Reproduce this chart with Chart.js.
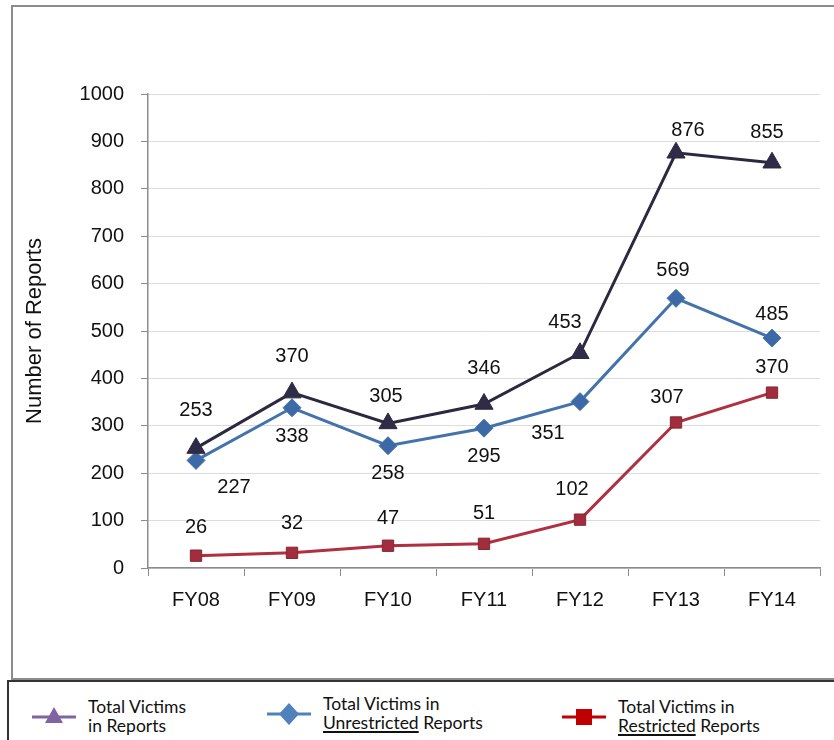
<!DOCTYPE html>
<html>
<head>
<meta charset="utf-8">
<script src="https://cdn.jsdelivr.net/npm/chart.js@4.4.0/dist/chart.umd.min.js"></script>
<style>
  body { margin: 0; background: #fff; width: 834px; height: 740px; overflow: hidden; position: relative; }
  #wrap { position: absolute; left: 0; top: 0; width: 834px; height: 740px; }
  #frame { position: absolute; left: 11px; top: 5px; width: 840px; height: 671px; border: 2px solid #8c8c8c; pointer-events: none; }
  #legend { position: absolute; left: 7px; top: 680px; width: 850px; height: 80px; border: 2px solid #333; background: #fff;
            font-family: Lato, "Open Sans", sans-serif; font-size: 17.5px; color: #111; }
  .item { position: absolute; top: 15px; display: flex; align-items: center; }
  .item canvas { margin-right: 10px; }
  .item span { line-height: 19px; }
  u { text-decoration-thickness: 2px; text-underline-offset: 2px; }
</style>
</head>
<body>
<div id="wrap"><canvas id="chart" width="834" height="740"></canvas></div>
<div id="frame"></div>
<div id="legend">
  <div class="item" style="left:21px"><canvas id="lg0" width="48" height="30"></canvas><span>Total Victims<br>in Reports</span></div>
  <div class="item" style="left:256px;top:12px"><canvas id="lg1" width="48" height="30"></canvas><span>Total Victims in<br><u>Unrestricted</u> Reports</span></div>
  <div class="item" style="left:551px"><canvas id="lg2" width="48" height="30"></canvas><span>Total Victims in<br><u>Restricted</u> Reports</span></div>
</div>
<script>
const categories = ['FY08', 'FY09', 'FY10', 'FY11', 'FY12', 'FY13', 'FY14'];
const totalVictims = [253, 370, 305, 346, 453, 876, 855];
const unrestrictedVictims = [227, 338, 258, 295, 351, 569, 485];
const restrictedVictims = [26, 32, 47, 51, 102, 307, 370];
const yTicks = [0, 100, 200, 300, 400, 500, 600, 700, 800, 900, 1000];

const FONT = '"Liberation Sans", Arial, sans-serif';

// label offsets (dx, dy) from each point, per series
const labelOffsets = [
  [[0, -38], [0, -36], [-2, -27], [0, -36], [-15, -31], [12, -22], [-5, -30]],
  [[38, 27], [0, 29], [0, 28], [0, 28], [-32, 32], [-3, -28], [0, -24]],
  [[0, -28], [0, -29], [0, -27], [0, -30], [-8, -30], [-9, -25], [0, -25]]
];

const dataLabels = {
  id: 'dataLabels',
  afterDatasetsDraw(chart) {
    const ctx = chart.ctx;
    ctx.save();
    ctx.font = '20px ' + FONT;
    ctx.fillStyle = '#111';
    ctx.textAlign = 'center';
    ctx.textBaseline = 'middle';
    chart.data.datasets.forEach((ds, i) => {
      chart.getDatasetMeta(i).data.forEach((pt, j) => {
        const o = labelOffsets[i][j];
        ctx.fillText(String(ds.data[j]), pt.x + o[0], pt.y + o[1]);
      });
    });
    ctx.restore();
  }
};

new Chart(document.getElementById('chart'), {
  type: 'line',
  data: {
    labels: categories,
    datasets: [
      {
        label: 'Total Victims in Reports',
        data: totalVictims,
        borderColor: '#2b2940',
        backgroundColor: '#2f2c48',
        pointStyle: 'triangle',
        pointRadius: 10.5,
        borderWidth: 3,
        pointBorderWidth: 1
      },
      {
        label: 'Total Victims in Unrestricted Reports',
        data: unrestrictedVictims,
        borderColor: '#4473ab',
        backgroundColor: '#3d6aa6',
        pointStyle: 'rectRot',
        pointRadius: 9,
        borderWidth: 3,
        pointBorderWidth: 1
      },
      {
        label: 'Total Victims in Restricted Reports',
        data: restrictedVictims,
        borderColor: '#b0303f',
        backgroundColor: '#a32d3c',
        pointBorderColor: '#7d2a35',
        pointStyle: 'rect',
        pointRadius: 8,
        borderWidth: 3,
        pointBorderWidth: 1
      }
    ]
  },
  options: {
    responsive: false,
    animation: false,
    layout: { padding: { top: 94, right: 14, bottom: 122, left: 0 } },
    plugins: { legend: { display: false }, tooltip: { enabled: false } },
    scales: {
      x: {
        offset: true,
        afterFit: (s) => { s.height = 50; },
        grid: { offset: true, drawOnChartArea: false, drawTicks: true, tickLength: 8, tickColor: '#8c8c8c' },
        border: { color: '#8c8c8c', width: 1.5 },
        ticks: { color: '#111', padding: 12, font: { size: 20, family: FONT } }
      },
      y: {
        min: 0,
        max: 1000,
        afterFit: (s) => { s.width = 148; },
        afterBuildTicks: (s) => { s.ticks = yTicks.map(v => ({ value: v })); },
        grid: { color: '#dcdcdc', tickColor: '#8c8c8c', tickLength: 7 },
        border: { color: '#8c8c8c', width: 1.5 },
        ticks: { color: '#111', padding: 17, font: { size: 20, family: FONT }, callback: (v) => String(v) },
        title: {
          display: true,
          text: 'Number of Reports',
          color: '#111',
          padding: { top: 22 },
          font: { size: 22, family: FONT }
        }
      }
    }
  },
  plugins: [dataLabels]
});

// legend markers
function legendMark(id, color, shape) {
  const c = document.getElementById(id).getContext('2d');
  c.strokeStyle = color;
  c.fillStyle = color;
  c.lineWidth = 3;
  c.beginPath(); c.moveTo(2, 16); c.lineTo(46, 16); c.stroke();
  c.beginPath();
  if (shape === 'tri') { c.moveTo(24, 6); c.lineTo(33, 22); c.lineTo(15, 22); }
  else if (shape === 'dia') { c.moveTo(24, 5); c.lineTo(34, 16); c.lineTo(24, 27); c.lineTo(14, 16); }
  else { c.rect(16, 8, 16, 16); }
  c.closePath(); c.fill();
}
legendMark('lg0', '#8064a2', 'tri');
legendMark('lg1', '#4f81bd', 'dia');
legendMark('lg2', '#c00000', 'sq');
</script>
</body>
</html>
